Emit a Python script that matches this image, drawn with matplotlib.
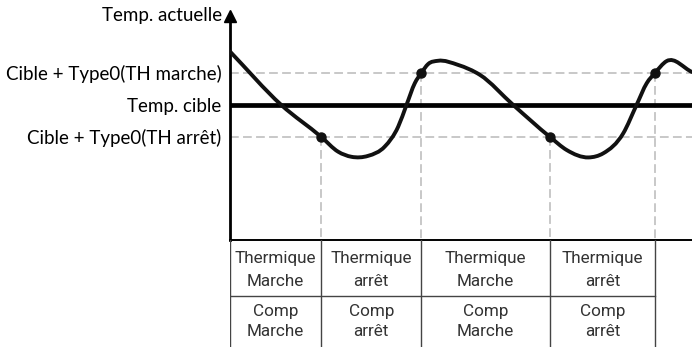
import matplotlib
matplotlib.use("Agg")
import matplotlib.pyplot as plt
from matplotlib.path import Path
from matplotlib.patches import PathPatch
import numpy as np

# temperature levels (target = 0, thermal on/off thresholds = +/-1)
level_names = ["Cible + Type0(TH marche)", "Temp. cible", "Cible + Type0(TH arrêt)"]
level_values = [1, 0, -1]

# key points of the measured temperature over time
curve_t = [0, 11.1, 19.76, 23.4, 26.3, 29.9, 33.5, 36.4, 38.2, 40.0, 41.41, 42.9, 45.0,
           49.4, 54.1, 61.3, 69.26, 72.9, 77.6, 80.8, 85.1, 88.0, 90.2, 91.99, 94.5, 100]
curve_v = [1.67, 0, -1, -1.46, -1.62, -1.59, -1.30, -0.68, 0, 0.68, 1, 1.28, 1.38,
           1.25, 0.94, 0, -1, -1.41, -1.64, -1.51, -0.89, 0, 0.68, 1, 1.37, 1.03]

# threshold crossings (switch points)
switch_t = [19.76, 41.41, 69.26, 91.99]
switch_v = [-1, 1, -1, 1]

# state table
row1 = ["Thermique\nMarche", "Thermique\narrêt", "Thermique\nMarche", "Thermique\narrêt"]
row2 = ["Comp\nMarche", "Comp\narrêt", "Comp\nMarche", "Comp\narrêt"]
cell_edges = [0] + switch_t

W, H = 692, 347
fig = plt.figure(figsize=(W / 100, H / 100), dpi=100)
label_font = ["Lato", "DejaVu Sans"]
table_font = ["Roboto", "DejaVu Sans"]

# main plot area (pixels: x 230-692, y 16-240)
ax = fig.add_axes([230 / W, (H - 240) / H, (W - 230) / W, (240 - 16) / H])
ax.set_xlim(0, 100)
ax.set_ylim(-4.22, 2.78)
for s in ["top", "right"]:
    ax.spines[s].set_visible(False)
ax.spines["left"].set_linewidth(2)
ax.spines["bottom"].set_linewidth(1.4)
ax.set_xticks([])
ax.set_yticks(level_values)
ax.set_yticklabels(level_names, fontsize=13.5, family=label_font)
ax.tick_params(axis="y", length=0, pad=6)
ax.patch.set_alpha(0)

# arrow head on the y axis
ax.plot(0, 1, marker="^", color="black", markersize=9, transform=ax.transAxes, clip_on=False)
ax.annotate("Temp. actuelle", xy=(0, 1), xycoords="axes fraction", xytext=(-8, 0),
            textcoords="offset pixels", ha="right", va="center", fontsize=13.5,
            family=label_font)

# threshold guides
for v in [1, -1]:
    ax.axhline(v, color="#c8c8c8", lw=1.4, dashes=(4.5, 2.2), zorder=1)
ax.axhline(0, color="black", lw=3.4, zorder=3)
for t, v in zip(switch_t, switch_v):
    ax.plot([t, t], [v, -4.22], color="#c8c8c8", lw=1.4, dashes=(4.5, 2.2), zorder=1, clip_on=False)

# smooth curve: cubic Hermite through the key points, drawn as Bezier segments
t = np.array(curve_t, dtype=float)
v = np.array(curve_v, dtype=float)
h = np.diff(t)
d = np.diff(v) / h
m = np.empty_like(v)
m[0], m[-1] = d[0], d[-1]
m[1:-1] = (d[1:] * h[:-1] + d[:-1] * h[1:]) / (h[:-1] + h[1:])
verts = [(t[0], v[0])]
codes = [Path.MOVETO]
for i in range(len(t) - 1):
    verts += [(t[i] + h[i] / 3, v[i] + m[i] * h[i] / 3),
              (t[i + 1] - h[i] / 3, v[i + 1] - m[i + 1] * h[i] / 3),
              (t[i + 1], v[i + 1])]
    codes += [Path.CURVE4] * 3
ax.add_patch(PathPatch(Path(verts, codes), fill=False, lw=2.8, color="#111111",
                       capstyle="round", joinstyle="round", zorder=4))
ax.plot(switch_t, switch_v, "o", color="#111111", markersize=6.5, zorder=5)

# state table under the axis (row separator 56 px below the axis)
tab = fig.add_axes([230 / W, 0, (W - 230) / W, (H - 240) / H])
tab.set_xlim(0, 100)
tab.set_ylim(1.91, 0)
tab.axis("off")
for x in cell_edges:
    tab.plot([x, x], [0, 1.91], color="#444444", lw=1.0)
tab.plot([0, cell_edges[-1]], [1, 1], color="#444444", lw=1.0)
for i in range(len(row1)):
    cx = (cell_edges[i] + cell_edges[i + 1]) / 2
    for text, ys in [(row1[i], (0.33, 0.74)), (row2[i], (1.277, 1.634))]:
        for line, y in zip(text.split("\n"), ys):
            tab.text(cx, y, line, ha="center", va="center", fontsize=12.3,
                     color="#333333", family=table_font)

fig.savefig("out.png", dpi=100)
